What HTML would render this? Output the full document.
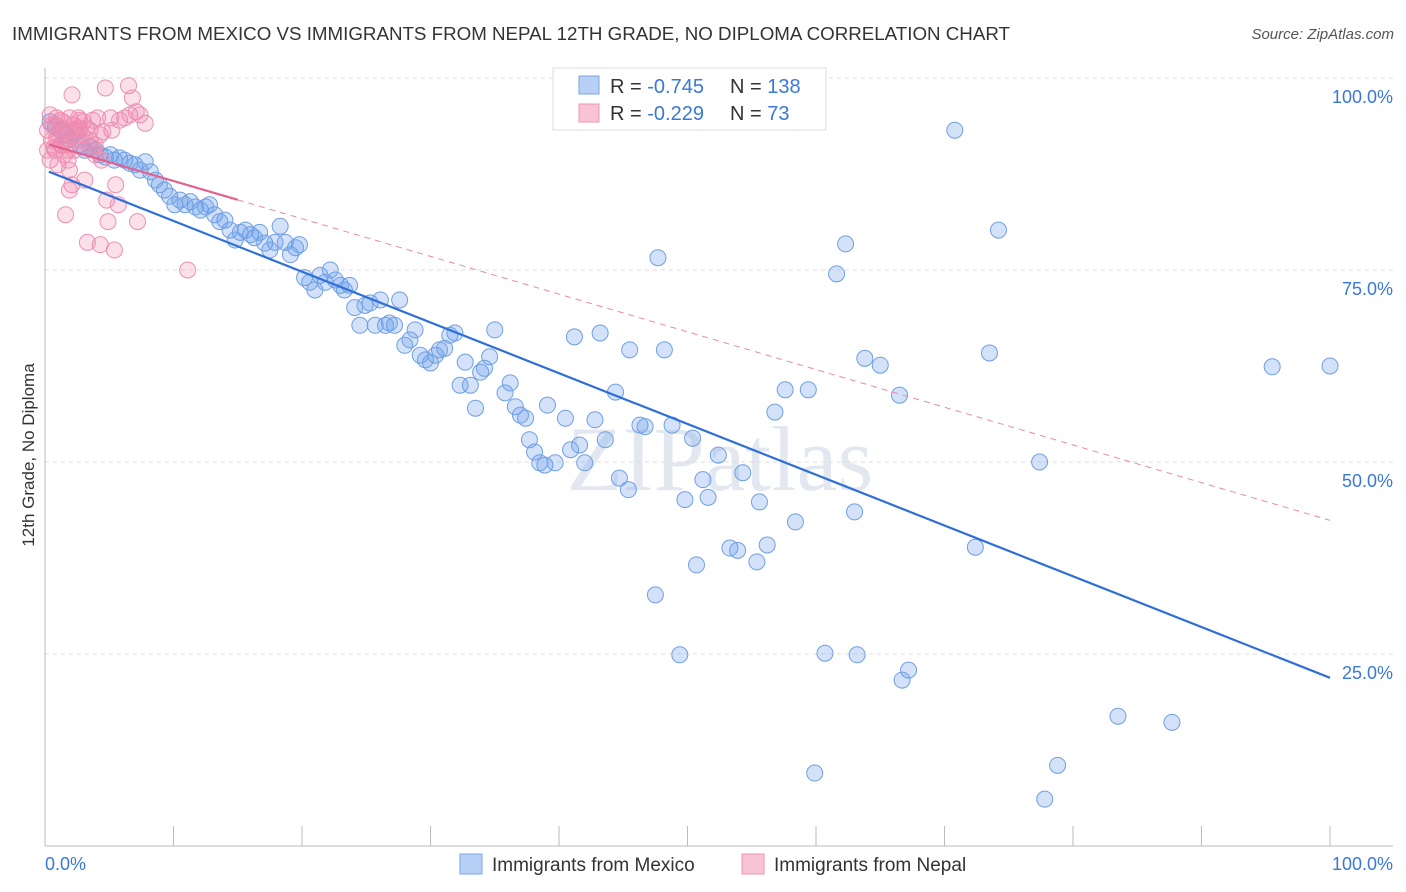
<!DOCTYPE html>
<html><head><meta charset="utf-8"><style>
body{margin:0;background:#fff;font-family:"Liberation Sans",sans-serif;}
#wrap{position:relative;width:1406px;height:892px;overflow:hidden;}
</style></head><body>
<div id="wrap">
<svg id="chart" width="1406" height="892">
<text x="12" y="40" font-size="18" fill="#333" textLength="998" lengthAdjust="spacingAndGlyphs">IMMIGRANTS FROM MEXICO VS IMMIGRANTS FROM NEPAL 12TH GRADE, NO DIPLOMA CORRELATION CHART</text>
<text x="1394" y="39" font-size="15" fill="#555" text-anchor="end" font-style="italic">Source: ZipAtlas.com</text>
<text x="720" y="490" font-size="92" fill="#e3e8f0" text-anchor="middle" font-family="Liberation Serif">ZIPatlas</text>
<g id="grid"></g><g id="axes"></g><g id="pts"></g><g id="trend"></g>
<text transform="translate(34,455) rotate(-90)" font-size="17" fill="#333" text-anchor="middle">12th Grade, No Diploma</text>
<g>
<rect x="553" y="68" width="273" height="62" fill="#fff" stroke="#ddd"/>
<rect x="579" y="76" width="20" height="18" fill="#b8d0f5" stroke="#7aa5e5"/>
<rect x="579" y="104" width="20" height="18" fill="#f8c4d5" stroke="#ee95b5"/>
<text x="610" y="93" font-size="20" fill="#333">R = <tspan fill="#3a78d8">-0.745</tspan></text>
<text x="730" y="93" font-size="20" fill="#333">N = <tspan fill="#3a78d8">138</tspan></text>
<text x="610" y="120" font-size="20" fill="#333">R = <tspan fill="#3a78d8">-0.229</tspan></text>
<text x="730" y="120" font-size="20" fill="#333">N = <tspan fill="#3a78d8">  73</tspan></text>
</g>
<g>
<rect x="460" y="854" width="22" height="20" fill="#b8d0f5" stroke="#7aa5e5"/>
<text x="492" y="871" font-size="19" fill="#333">Immigrants from Mexico</text>
<rect x="742" y="854" width="22" height="20" fill="#f8c4d5" stroke="#ee95b5"/>
<text x="774" y="871" font-size="19" fill="#333">Immigrants from Nepal</text>
</g>
</svg>
</div>
<script>
const blueX=[0.4,0.8,1.2,1.6,1.9,2.3,2.7,3.1,3.5,3.9,4.3,4.7,5.1,5.4,5.8,6.2,6.6,7.0,7.4,7.8,8.2,8.6,8.9,9.3,9.7,10.1,10.5,10.9,11.3,11.7,12.1,12.5,12.8,13.2,13.6,14.0,14.4,14.8,15.2,15.6,16.0,16.3,16.7,17.1,17.5,17.9,18.3,18.7,19.1,19.5,19.8,20.2,20.6,21.0,21.4,21.8,22.2,22.6,23.0,23.3,23.7,24.1,24.5,24.9,25.3,25.7,26.1,26.5,26.8,27.2,27.6,28.0,28.4,28.8,29.2,29.6,30.0,30.4,30.7,31.1,31.5,31.9,32.3,32.7,33.1,33.5,33.9,34.2,34.6,35.0,35.8,36.2,36.6,37.0,37.4,37.7,38.1,38.5,38.9,39.1,39.7,40.5,40.9,41.2,41.6,42.0,42.8,43.2,43.6,44.4,44.7,45.4,45.5,46.3,46.7,47.5,47.7,48.2,48.8,49.4,49.8,50.4,50.7,51.2,51.6,52.4,53.3,53.9,54.3,54.5,55.4,55.6,56.2,56.8,57.6,58.4,59.4,59.9,60.7,61.6,62.3,63.0,63.2,63.8,65.0,66.5,66.7,67.2,70.8,72.4,73.5,74.2,77.4,77.8,78.8,83.5,87.7,95.5,100];
const blueY=[94.3,93.6,93.2,92.6,92.0,92.8,91.3,90.6,91.0,90.6,90.0,89.7,90.0,89.3,89.6,89.3,88.9,88.7,88.0,89.1,87.8,86.7,86.1,85.4,84.6,83.5,84.1,83.5,83.9,83.2,82.8,83.2,83.5,82.2,81.3,81.5,80.2,78.9,79.9,80.2,79.6,79.2,79.9,78.5,77.6,78.6,80.7,78.6,77.0,77.9,78.3,74.0,73.4,72.4,74.3,73.4,75.0,73.7,73.0,72.4,73.0,70.1,67.8,70.4,70.7,67.8,71.1,67.8,68.1,67.8,71.1,65.2,65.9,67.2,63.9,63.3,62.9,63.9,64.6,64.8,66.5,66.8,60.0,63.0,60.0,57.0,61.7,62.2,63.7,67.2,59.0,60.3,57.2,56.1,55.7,52.9,51.3,49.9,49.6,57.4,49.9,55.7,51.6,66.3,52.2,49.9,55.5,66.8,52.9,59.1,47.9,46.4,64.6,54.8,54.6,32.7,76.6,64.6,54.8,24.9,45.1,53.1,36.6,47.7,45.4,50.9,38.8,38.5,48.6,99.7,37.0,44.8,39.2,56.5,59.4,42.2,59.4,9.5,25.1,74.5,78.4,43.5,24.9,63.5,62.6,58.7,21.6,22.9,93.2,38.9,64.2,80.2,50.0,6.1,10.5,16.9,16.1,62.4,62.5];
const pinkX=[0.2,0.5,0.8,1.0,1.2,1.3,1.6,1.8,1.9,2.1,2.3,2.6,2.7,2.9,3.1,3.3,3.5,3.7,3.9,4.1,4.3,4.4,4.7,4.8,4.9,5.1,5.2,5.4,5.5,5.7,5.8,6.2,6.5,6.6,6.8,7.1,7.2,7.4,7.8,11.1,0.4,0.8,1.6,1.9,2.1,1.2,1.8,2.3,2.7,4.3,0.4,0.5,0.9,1.3,1.6,2.2,2.4,3.0,3.2,3.5,3.9,1.0,1.5,0.7,1.9,2.0,2.6,2.8,3.7,4.5,0.2,0.9,1.4];
const pinkY=[93.2,91.9,93.9,92.6,94.5,91.3,93.0,90.6,94.8,97.8,91.9,93.5,94.5,92.6,86.7,78.6,93.2,94.5,90.0,94.8,78.3,89.3,98.7,84.1,81.3,94.8,93.2,77.6,86.1,83.5,94.5,94.8,99.0,95.2,97.4,95.6,81.3,95.2,94.1,75.0,89.3,90.6,82.2,85.4,86.1,91.3,89.3,90.6,93.2,92.6,95.2,93.9,94.8,93.5,91.9,93.9,93.2,94.3,93.5,91.9,91.3,88.7,90.0,90.9,88.0,93.2,94.8,91.9,90.9,93.0,90.6,92.2,94.3];
const blueTrend=[88.0,21.9];
const pinkTrend=[91.5,42.4];
const pinkSolidEnd=15;
const xTickLabels=["0.0%","100.0%"];
const yTicks=[100,75,50,25];
const yTickLabels=["100.0%","75.0%","50.0%","25.0%"];

const NS="http://www.w3.org/2000/svg";
const X0=45,X1=1330,Y0=846,Y100=78;
const sx=v=>X0+(X1-X0)*v/100;
const sy=v=>Y0-(Y0-Y100)*v/100;
function mk(tag,attrs,parent){const e=document.createElementNS(NS,tag);for(const k in attrs)e.setAttribute(k,attrs[k]);document.getElementById(parent).appendChild(e);return e;}
yTicks.forEach((t,i)=>{
  const g=mk('line',{x1:45,x2:1393,y1:sy(t),y2:sy(t),stroke:'#ddd','stroke-dasharray':'4,4'},'grid');
  
  
  const l=mk('text',{x:1393,y:sy(t)+25,'font-size':18,fill:'#3a78d8','text-anchor':'end'},'grid');
  l.textContent=yTickLabels[i];
  
  
});
const ya=mk('line',{x1:45,x2:45,y1:68,y2:846,stroke:'#bbb'},'axes');


const xa=mk('line',{x1:45,x2:1393,y1:846,y2:846,stroke:'#bbb'},'axes');


for(let i=0;i<=10;i++){
  const t=mk('line',{x1:sx(i*10),x2:sx(i*10),y1:826,y2:846,stroke:'#bbb'},'axes');
  
  
}
[[0,'start',45],[100,'end',1393]].forEach((a,i)=>{
  const l=mk('text',{x:a[2],y:870,'font-size':18,fill:'#3a78d8','text-anchor':a[1]},'axes');
  l.textContent=xTickLabels[i];
  
  
});
blueX.forEach((x,i)=>{
  const c=mk('circle',{cx:sx(x),cy:sy(blueY[i]),r:8,fill:'rgba(110,160,235,0.3)',stroke:'#6f9fe3','stroke-width':1},'pts');
  
  
});
pinkX.forEach((x,i)=>{
  const c=mk('circle',{cx:sx(x),cy:sy(pinkY[i]),r:8,fill:'rgba(240,130,170,0.25)',stroke:'#ee8fb2','stroke-width':1},'pts');
  
  
});
const by=x=>blueTrend[0]+(blueTrend[1]-blueTrend[0])*x/100;
const bl=mk('line',{x1:sx(0.3),y1:sy(by(0.3)),x2:sx(100),y2:sy(by(100)),stroke:'#2e6fd8','stroke-width':2.2},'trend');


const py=x=>pinkTrend[0]+(pinkTrend[1]-pinkTrend[0])*x/100;
const pd=mk('line',{x1:sx(pinkSolidEnd),y1:sy(py(pinkSolidEnd)),x2:sx(100),y2:sy(py(100)),stroke:'#e88aaa','stroke-width':1,'stroke-dasharray':'6,5'},'trend');


const ps=mk('line',{x1:sx(0.3),y1:sy(py(0.3)),x2:sx(pinkSolidEnd),y2:sy(py(pinkSolidEnd)),stroke:'#e0628f','stroke-width':2.2},'trend');


</script>
</body></html>
